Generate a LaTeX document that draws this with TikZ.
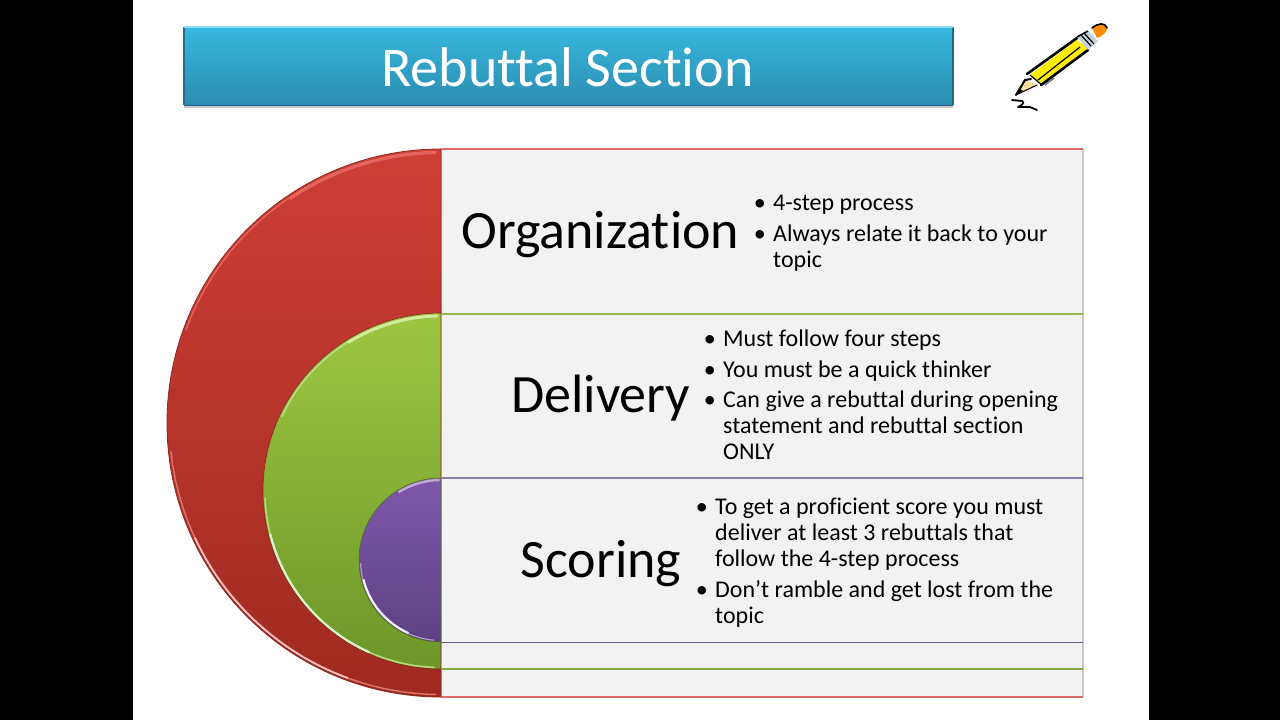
\documentclass[tikz,border=0pt]{standalone}
\usepackage{fontspec}
\setmainfont[Ligatures=NoCommon]{Carlito}
\usetikzlibrary{shadows}
\definecolor{redtop}{HTML}{CE3E35}
\definecolor{redbot}{HTML}{9F2A21}
\definecolor{redrim}{HTML}{E4655D}
\definecolor{redline}{HTML}{DC6A64}
\definecolor{grntop}{HTML}{9DC742}
\definecolor{grnbot}{HTML}{6C9729}
\definecolor{grnline}{HTML}{93BC4C}
\definecolor{purtop}{HTML}{7F57AA}
\definecolor{purbot}{HTML}{5C4284}
\definecolor{purline}{HTML}{8A7FB0}
\definecolor{blutop}{HTML}{37B7DC}
\definecolor{blubot}{HTML}{2B8CB0}
\definecolor{rowfill}{HTML}{F2F2F2}
\tikzset{
  rowbox/.style={rectangle, anchor=north west, minimum width=642pt, inner sep=0pt, fill=rowfill},
  heading/.style={anchor=base east, inner sep=0pt, font=\fontsize{54}{60}\selectfont},
  point/.style={anchor=base west, inner sep=0pt, font=\fontsize{24}{26}\selectfont},
  dotmark/.style={anchor=base east, inner sep=0pt, font=\fontsize{24}{26}\selectfont},
  rim/.style={line width=#1, line cap=butt},
}
\newcommand{\rimarc}[5]{\draw[#1] (441,#2) ++(#4:#3) arc[start angle=#4, end angle=#5, radius=#3];}
\begin{document}
\begin{tikzpicture}[x=1pt, y=-1pt]
  \useasboundingbox (0,0) rectangle (1280,720);
  \fill[white] (0,0) rectangle (1280,720);
  \fill[black] (0,0) rectangle (133,720);
  \fill[black] (1149,0) rectangle (1280,720);

  \node (banner) [rectangle, anchor=north west, minimum width=769pt, minimum height=78pt, inner sep=0pt,
                  top color=blutop, bottom color=blubot,
                  drop shadow={shadow xshift=0pt, shadow yshift=-2.5pt, opacity=0.2, fill=black}]
                  at (184,27) {};
  \draw[color=blubot!80!black, line width=1.5pt] (banner.north west) -- (banner.south west);
  \draw[color=blubot!75!black, line width=2pt] (banner.north east) -- (banner.south east);
  \draw[color=blubot!70!black, line width=1.6pt] (banner.south west) -- (banner.south east);
  \draw[color=cyan!45!white, line width=2pt] (banner.north west) -- (banner.north east);
  \node (title) [font=\fontsize{56}{60}\selectfont, text=white, anchor=base, inner sep=0pt]
                at (567.5,86) {Rebuttal Section};

  \node (org_row) [rowbox, minimum height=548pt] at (441,149) {};
  \draw[black!22, line width=2pt] (org_row.north east) -- (org_row.south east);
  \draw[redline, line width=1.4pt] (org_row.north west) -- (org_row.north east);
  \draw[redline, line width=1.8pt] (441,697) -- (1083,697);
  \draw[redtop!40!white, line width=2pt] (org_row.north west) -- (org_row.south west);
  \path[top color=redtop, bottom color=redbot, draw=redbot!90!black, line width=0.8pt]
    (441,697) arc[start angle=90, end angle=270, radius=274] -- cycle;
  \rimarc{rim=1.4pt, redtop!70!white}{423}{271.5}{91}{174}
  \rimarc{rim=1.8pt, red!18!white!90!redtop}{423}{271.5}{110}{155}
  \rimarc{rim=1.4pt, redrim}{423}{271.5}{200}{269}
  \rimarc{rim=3pt, redrim}{423}{270.5}{236}{269}

  \node (del_row) [rowbox, minimum height=355pt] at (441,314) {};
  \draw[black!22, line width=2pt] (del_row.north east) -- (del_row.south east);
  \draw[grnline, line width=1.4pt] (del_row.north west) -- (del_row.north east);
  \draw[grnline!90!black, line width=2pt] (441,669) -- (1083,669);
  \draw[grntop!45!white, line width=2pt] (del_row.north west) -- (del_row.south west);
  \path[top color=grntop, bottom color=grnbot, draw=redbot!85!black, line width=0.6pt]
    (441,669) arc[start angle=90, end angle=270, radius=178] -- cycle;
  \rimarc{rim=1.6pt, grntop!70!white}{491.5}{176}{92}{178}
  \rimarc{rim=2.2pt, yellow!30!green!20!white}{491.5}{176}{114}{166}
  \rimarc{rim=1.4pt, grntop!65!white}{491.5}{176}{205}{269}
  \rimarc{rim=2.8pt, yellow!55!green!38!white}{491.5}{175.5}{238}{269}

  \node (sco_row) [rowbox, minimum height=164pt] at (441,478) {};
  \draw[black!22, line width=2pt] (sco_row.north east) -- (sco_row.south east);
  \draw[purline, line width=1.2pt] (sco_row.north west) -- (sco_row.north east);
  \draw[purline!75!black, line width=1.8pt] (sco_row.south west) -- (sco_row.south east);
  \draw[purtop!50!white, line width=2pt] (sco_row.north west) -- (sco_row.south west);
  \path[top color=purtop, bottom color=purbot, draw=grnbot!75!black, line width=0.6pt]
    (441,642) arc[start angle=90, end angle=270, radius=82] -- cycle;
  \rimarc{rim=1.2pt, purtop!60!white}{560}{80.5}{95}{178}
  \rimarc{rim=2.2pt, purtop!12!white}{560}{80}{114}{166}
  \rimarc{rim=2.4pt, purtop!50!white}{560}{80}{238}{269}

  \node (org_head) [heading] at (739.5,248) {Organization};
  \node (del_head) [heading] at (690.5,412) {Delivery};
  \node (sco_head) [heading] at (681.5,577) {Scoring};

  \node (org_a) [point] at (773,210) {4-step process};
  \node (org_b) [point] at (773,241) {Always relate it back to your};
  \node (org_c) [point] at (773,267) {topic};
  \node (org_adot) [dotmark] at (766,210) {•};
  \node (org_bdot) [dotmark] at (766,241) {•};

  \node (del_a) [point] at (723,346) {Must follow four steps};
  \node (del_b) [point] at (723,377) {You must be a quick thinker};
  \node (del_c) [point] at (723,407) {Can give a rebuttal during opening};
  \node (del_d) [point] at (723,433) {statement and rebuttal section};
  \node (del_e) [point] at (723,459) {ONLY};
  \node (del_adot) [dotmark] at (716,346) {•};
  \node (del_bdot) [dotmark] at (716,377) {•};
  \node (del_cdot) [dotmark] at (716,407) {•};

  \node (sco_a) [point] at (715,514) {To get a proficient score you must};
  \node (sco_b) [point] at (715,540) {deliver at least 3 rebuttals that};
  \node (sco_c) [point] at (715,566) {follow the 4-step process};
  \node (sco_d) [point] at (715,597) {Don’t ramble and get lost from the};
  \node (sco_e) [point] at (715,623) {topic};
  \node (sco_adot) [dotmark] at (708,514) {•};
  \node (sco_ddot) [dotmark] at (708,597) {•};

  \fill[yellow!95!orange] (1030,75) -- (1077,40) -- (1088,48) -- (1042,85) -- cycle;
  \draw[black, line width=2.6pt, line cap=round] (1027,74) -- (1077,38);
  \draw[black, line width=2.6pt, line cap=round] (1041,85) -- (1088,50);
  \draw[black, line width=1.2pt] (1038,80) -- (1080,47);
  \draw[black, line width=1.2pt] (1030,75) -- (1042,85);
  \fill[orange!90!yellow]
    (1092,28) .. controls (1098,23) and (1105,22) .. (1107,28) .. controls (1107,33) and (1102,36) .. (1097,38) -- cycle;
  \draw[black, line width=1.6pt, line cap=round] (1092,28) .. controls (1098,23) and (1105,22) .. (1107,28);
  \fill[cyan!25!gray!45!white] (1077,37) -- (1088,31) -- (1098,41) -- (1088,50) -- cycle;
  \draw[black, line width=1.6pt] (1077,37) -- (1088,31);
  \draw[black, line width=1.2pt] (1081,35) -- (1091,46);
  \draw[black, line width=1.2pt] (1084,33) -- (1094,44);
  \fill[yellow!30!orange!35!white] (1016,95) -- (1025,80) -- (1037,85) -- cycle;
  \draw[black, line width=2pt, line cap=round] (1016,95) -- (1025,80) -- (1031,79);
  \draw[black, line width=1pt] (1016,95) -- (1037,85);
  \fill[black] (1016,95) -- (1019,88) -- (1023,91) -- cycle;
  \draw[black!55, line width=1.5pt] (1045,85) -- (1054,78);
  \draw[black, line width=1.8pt, line cap=round, line join=round]
    (1012,100) -- (1022,101) .. controls (1026,103) and (1020,106) .. (1018,107) -- (1030,107) -- (1037,110);
\end{tikzpicture}
\end{document}
